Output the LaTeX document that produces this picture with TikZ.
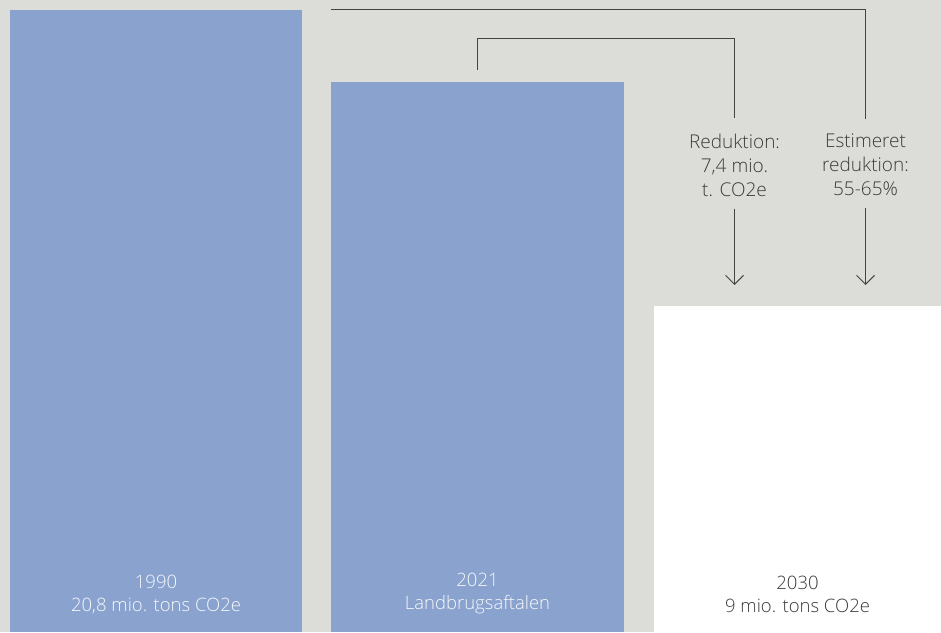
\documentclass[tikz,border=0pt]{standalone}
\usepackage{fontspec}
\setmainfont{Open Sans}[UprightFont={* Light}]
\usepackage{tikz}
\usetikzlibrary{arrows.meta,positioning}

\definecolor{bgrey}{HTML}{DCDCD8}
\definecolor{barblue}{HTML}{89A2CE}
\definecolor{txtgrey}{HTML}{3C3C3C}
\definecolor{linegrey}{HTML}{444444}

\begin{document}
\begin{tikzpicture}[x=1pt,y=-1pt,
    bar/.style={rectangle,fill=barblue,inner sep=0pt},
    lbl/.style={align=center,font=\fontsize{18.5}{23}\selectfont,text=white!92!barblue,inner sep=0pt},
    note/.style={align=center,font=\fontsize{19}{24}\selectfont,text=txtgrey,inner sep=0pt},
    link/.style={draw=linegrey,line width=1pt},
    pointer/.style={link,-{Straight Barb[length=9pt,width=18pt]}}]
    \fill[bgrey] (0,0) rectangle (941,632);
    \useasboundingbox (0,0) rectangle (941,632);
    \node[bar,minimum width=292pt,minimum height=622pt] (bar_1990) at (156,321) {};
    \node[bar,minimum width=293pt,minimum height=550pt] (bar_2021) at (477.5,357) {};
    \node[rectangle,fill=white,inner sep=0pt,minimum width=287pt,minimum height=326pt] (box_2030) at (797.5,469) {};
    \node[lbl] (l_1990) at (156,594) {1990\\20,8 mio. tons CO2e};
    \node[lbl] (l_2021) at (477.5,594) {2021\\Landbrugsaftalen};
    \node[lbl,text=txtgrey] (l_2030) at (797.5,594) {2030\\9 mio. tons CO2e};
    \node[note] (red) at (734.5,165) {Reduktion:\\7,4 mio.\\t. CO2e};
    \node[note] (est) at (865.5,165) {Estimeret\\reduktion:\\55-65\%};
    \coordinate (start) at (331,9.5);
    \coordinate (b2_top) at ([yshift=12pt]bar_2021.north);
    \draw[link,shorten >=15pt] (start) -| (est.north);
    \draw[link,shorten >=15pt] (b2_top) -- (b2_top |- 0,38) -| (red.north);
    \draw[pointer,shorten <=12pt] (red.south) -- (red.south |- 0,285);
    \draw[pointer,shorten <=12pt] (est.south) -- (est.south |- 0,285);
\end{tikzpicture}
\end{document}
